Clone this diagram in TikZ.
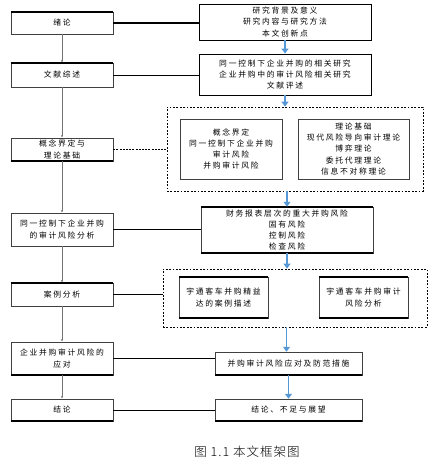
\documentclass[tikz,border=0pt]{standalone}
\usepackage{fontspec}
\newfontfamily\cjk[LetterSpace=22]{Noto Sans CJK SC}
\newfontfamily\cjkcap[LetterSpace=8]{Noto Sans CJK SC Light}
\usetikzlibrary{arrows.meta}
\definecolor{flowblue}{RGB}{86,152,214}
\tikzset{
  box/.style={draw=black!75, line width=0.5pt, align=center, inner sep=0pt,
    font=\cjk\fontsize{7.8}{11.3}\selectfont, fill=white},
  thickedge/.style={line width=1.6pt, black},
  dbox/.style={draw=black, dashed, dash pattern=on 1.8pt off 1.6pt, line width=0.8pt},
  link/.style={black, line width=1.3pt},
  thinlink/.style={black, line width=0.7pt},
  downarrow/.style={draw=black!55, line width=0.5pt, -{Latex[length=2.5pt,width=2.2pt]}},
  bluearrow/.style={draw=flowblue, line width=1.8pt, -{Triangle[length=5pt,width=7pt]}},
}
\begin{document}
\begin{tikzpicture}[x=1pt,y=-1pt]
\useasboundingbox (0,0) rectangle (441,463);
% left column
\node[box, minimum width=102pt, minimum height=22pt] (L1) at (62,23) {绪论};
\node[box, minimum width=102pt, minimum height=24pt] (L2) at (62,75) {文献综述};
\node[box, minimum width=102pt, minimum height=23pt] (L3) at (62,149.5) {概念界定与\\理论基础};
\node[box, minimum width=102pt, minimum height=33pt] (L4) at (62,229.5) {同一控制下企业并购\\的审计风险分析};
\node[box, minimum width=102pt, minimum height=23pt] (L5) at (62,294.5) {案例分析};
\node[box, minimum width=102pt, minimum height=33pt] (L6) at (62,358.5) {企业并购审计风险的\\应对};
\node[box, minimum width=102pt, minimum height=22pt] (L7) at (62,410) {结论};
% right column
\node[box, line width=0.9pt, draw=black, minimum width=172pt, minimum height=36pt] (R1) at (285,22) {研究背景及意义\\研究内容与研究方法\\本文创新点};
\node[box, line width=0.9pt, draw=black, minimum width=172pt, minimum height=41pt] (R2) at (285,74.5) {同一控制下企业并购的相关研究\\企业并购中的审计风险相关研究\\文献评述};
\node[dbox, minimum width=256pt, minimum height=84pt, inner sep=0pt] (D1) at (295,149) {};
\node[box, minimum width=102pt, minimum height=60pt] (D1a) at (231,149) {概念界定\\同一控制下企业并购\\审计风险\\并购审计风险};
\node[box, minimum width=111pt, minimum height=60pt] (D1b) at (353.5,149) {理论基础\\现代风险导向审计理论\\博弈理论\\委托代理理论\\信息不对称理论};
\node[box, minimum width=172pt, minimum height=46pt] (R3) at (287,230) {财务报表层次的重大并购风险\\固有风险\\控制风险\\检查风险};
\node[dbox, minimum width=264pt, minimum height=58pt, inner sep=0pt] (D2) at (295,298) {};
\node[box, minimum width=89pt, minimum height=41pt] (D2a) at (223.5,297.5) {宇通客车并购精益\\达的案例描述};
\node[box, minimum width=89pt, minimum height=41pt] (D2b) at (363.5,297.5) {宇通客车并购审计\\风险分析};
\node[box, minimum width=147pt, minimum height=23pt] (R4) at (288.5,363.5) {并购审计风险应对及防范措施};
\node[box, minimum width=147pt, minimum height=22pt] (R5) at (288.5,410) {结论、不足与展望};
% thick edges
\foreach \n in {L1,L2,L5,R3,D2a,D2b} \draw[thickedge] (\n.north west) -- (\n.north east);
\foreach \n in {L3,L6,L7,R3,R4,R5,D2a,D2b} \draw[thickedge] (\n.south west) -- (\n.south east);
% horizontal links
\draw[link] (L1.east) -- (L1.east -| R1.west);
\draw[thinlink] (L2.east) -- (L2.east -| R2.west);
\draw[black, line width=1.6pt, dash pattern=on 2pt off 1.2pt] (L3.east) -- (L3.east -| D1.west);
\draw[link] (L4.east) -- (L4.east -| R3.west);
\draw[link] (L5.east) -- (L5.east -| D2.west);
\draw[link] (L6.east) -- (L6.east -| R4.west);
\draw[thinlink] (L7.east) -- (L7.east -| R5.west);
% left vertical arrows
\draw[downarrow] (L1.south) -- (L2.north);
\draw[downarrow] (L2.south) -- (L3.north);
\draw[downarrow] (L3.south) -- (L4.north);
\draw[downarrow] (L4.south) -- (L5.north);
\draw[downarrow] (L5.south) -- (L6.north);
\draw[downarrow] (L6.south) -- (L7.north);
% blue arrows
\draw[bluearrow] (R1.south) -- (R2.north);
\draw[bluearrow] (R2.south) -- (R2.south |- D1.north);
\draw[bluearrow] (R3.north |- D1.south) -- (R3.north);
\draw[bluearrow] (R3.south) -- (R3.south |- D2.north);
\draw[bluearrow] ([xshift=-2pt]R4.north |- D2.south) -- ([xshift=-2pt]R4.north);
\draw[bluearrow] (R4.south) -- (R5.north);
% caption
\node[font=\cjkcap\fontsize{12.5}{14}\selectfont] (cap) at (247,452) {图 1.1 本文框架图};
\end{tikzpicture}
\end{document}
